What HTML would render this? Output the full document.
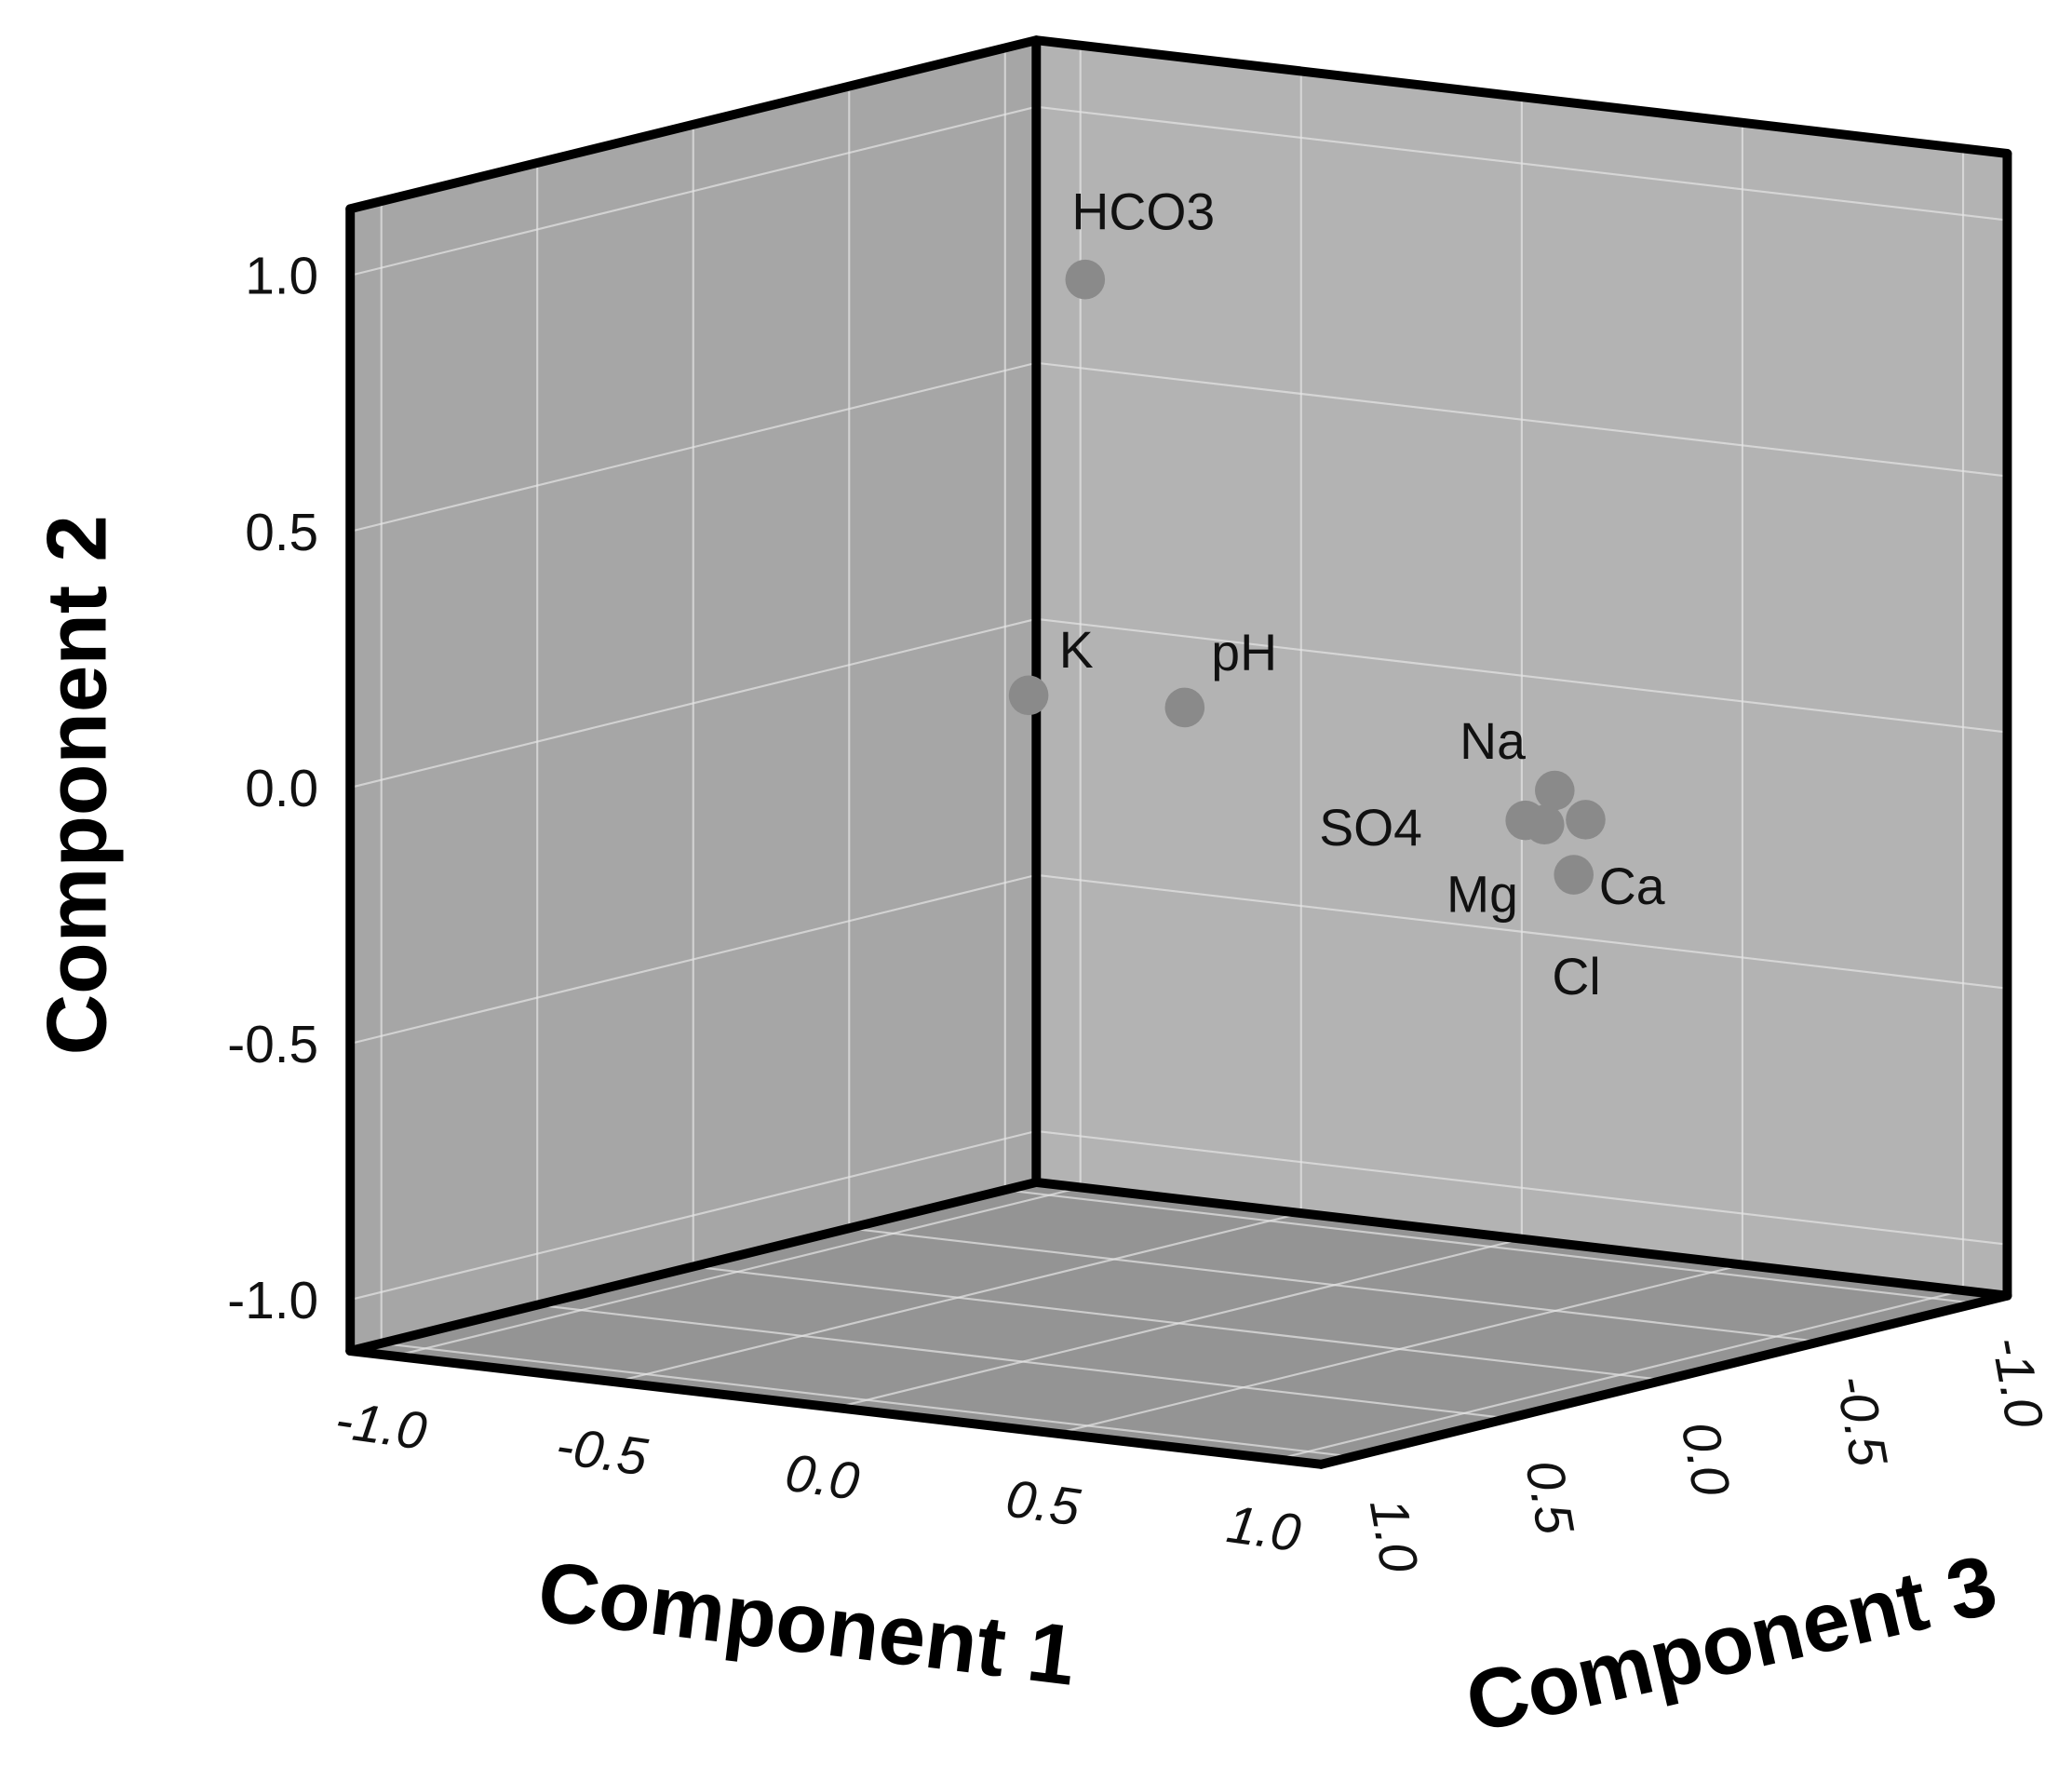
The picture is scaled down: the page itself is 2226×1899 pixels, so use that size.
<!DOCTYPE html>
<html><head><meta charset="utf-8"><style>
html,body{margin:0;padding:0;background:#fff}
svg{display:block}
text{font-family:"Liberation Sans",Arial,sans-serif}
</style></head><body>
<svg id="chart" xmlns="http://www.w3.org/2000/svg" width="2226" height="1899" viewBox="0 0 1568 1337.7" preserveAspectRatio="none">
<g id="walls"></g><g id="grid"></g><g id="edges"></g><g id="points"></g><g id="ticks"></g>
<text x="0" y="0" transform="translate(80,594) rotate(-90)" text-anchor="middle" font-size="64" font-weight="bold" fill="#000">Component 2</text>
<text x="0" y="0" transform="translate(608,1250) rotate(7)" text-anchor="middle" font-size="64" font-weight="bold" fill="#000">Component 1</text>
<text x="0" y="0" transform="translate(1315,1265) rotate(-13)" text-anchor="middle" font-size="64" font-weight="bold" fill="#000">Component 3</text>
</svg>
<script>
const labels=["HCO3","K","pH","Na","SO4","Mg","Cl","Ca"];
const comp1=[0.0,-0.34,0.155,0.64,0.644,0.758,0.71,0.895];
const comp2=[0.983,0.092,0.148,-0.04,-0.083,-0.065,-0.09,-0.134];
const comp3=[0.3,0.0,0.2,-0.3,-0.2,-0.1,-0.3,0.0];
const ticks=[-1.0,-0.5,0.0,0.5,1.0];
const tickText=["-1.0","-0.5","0.0","0.5","1.0"];
// label offsets (styling)
const labOff=[[44,-52],[36,-35],[45,-42],[-47,-38],[-117,5],[-47,52],[-7,118],[44,8]];
const NS="http://www.w3.org/2000/svg";
const M=1.1, TOP=1.13;
function P(c1,c2,c3){return [892+334*c1-236*c3, 575+39*c1+58*c3-387.5*c2];}
function mk(tag,attrs,parent){const e=document.createElementNS(NS,tag);for(const k in attrs)e.setAttribute(k,attrs[k]);parent.appendChild(e);return e;}
function poly(pts){return pts.map(p=>p.join(",")).join(" ");}
const walls=document.getElementById('walls');
let w=mk('polygon',{points:poly([P(-M,TOP,M),P(-M,TOP,-M),P(-M,-M,-M),P(-M,-M,M)]),fill:"#a6a6a6"},walls);


w=mk('polygon',{points:poly([P(-M,TOP,-M),P(M,TOP,-M),P(M,-M,-M),P(-M,-M,-M)]),fill:"#b3b3b3"},walls);


w=mk('polygon',{points:poly([P(-M,-M,M),P(-M,-M,-M),P(M,-M,-M),P(M,-M,M)]),fill:"#949494"},walls);


const grid=document.getElementById('grid');
function gl(a,b){const l=mk('line',{x1:a[0],y1:a[1],x2:b[0],y2:b[1],stroke:"#e6e6e6","stroke-width":1.5,"stroke-opacity":0.7},grid);

}
ticks.forEach(t=>{
 gl(P(-M,t,M),P(-M,t,-M)); gl(P(-M,t,-M),P(M,t,-M));
 gl(P(-M,TOP,t),P(-M,-M,t)); gl(P(t,TOP,-M),P(t,-M,-M));
 gl(P(t,-M,M),P(t,-M,-M)); gl(P(-M,-M,t),P(M,-M,t));
});
const edges=document.getElementById('edges');
function ed(a,b){const l=mk('line',{x1:a[0],y1:a[1],x2:b[0],y2:b[1],stroke:"#000","stroke-width":7,"stroke-linecap":"round"},edges);

}
ed(P(-M,TOP,M),P(-M,-M,M));ed(P(-M,TOP,M),P(-M,TOP,-M));ed(P(-M,TOP,-M),P(M,TOP,-M));
ed(P(-M,TOP,-M),P(-M,-M,-M));ed(P(M,TOP,-M),P(M,-M,-M));
ed(P(-M,-M,M),P(M,-M,M));ed(P(M,-M,M),P(M,-M,-M));
ed(P(-M,-M,M),P(-M,-M,-M));ed(P(-M,-M,-M),P(M,-M,-M));
const pts=document.getElementById('points');
labels.forEach((lab,i)=>{
 const p=P(comp1[i],comp2[i],comp3[i]);
 const c=mk('circle',{cx:p[0],cy:p[1],r:15,fill:"#8a8a8a"},pts);
 
 
 const t=mk('text',{x:p[0]+labOff[i][0],y:p[1]+labOff[i][1]+14,"text-anchor":"middle","font-size":39,fill:"#111"},pts);
 t.textContent=lab;
 
 
});
const tk=document.getElementById('ticks');
ticks.forEach((t,i)=>{
 let p=P(-M,t,M);
 let e=mk('text',{x:p[0]-24,y:p[1]+14,"text-anchor":"end","font-size":40,fill:"#111"},tk);
 e.textContent=tickText[i];
 
 
 p=P(t,-M,M);
 e=mk('text',{x:0,y:0,transform:`translate(${p[0]-12},${p[1]+66}) rotate(8)`,"text-anchor":"middle","font-size":40,"font-style":"italic",fill:"#111"},tk);
 e.textContent=tickText[i];
 
 
 p=P(M,-M,t);
 e=mk('text',{x:0,y:0,transform:`translate(${p[0]+18},${p[1]+62}) rotate(80)`,"text-anchor":"middle","font-size":40,"font-style":"italic",fill:"#111"},tk);
 e.textContent=tickText[i];
 
 
});
</script>
</body></html>
